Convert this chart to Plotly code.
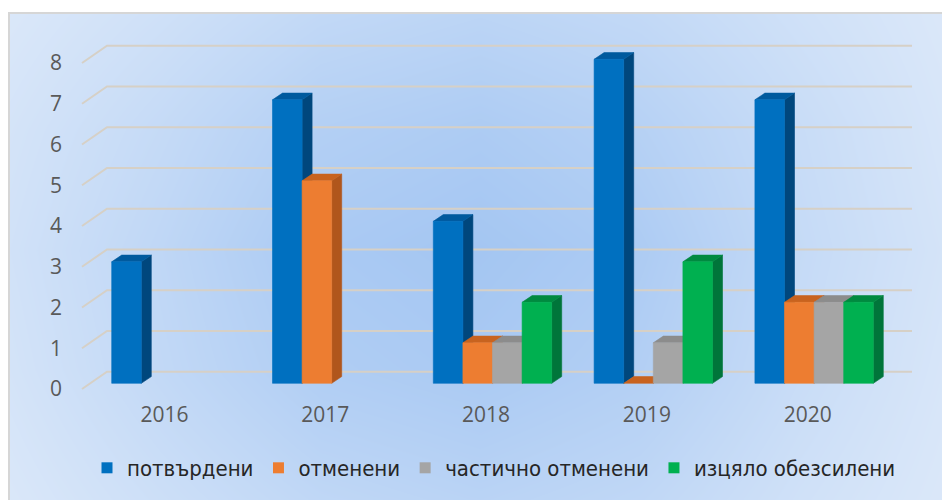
import plotly.graph_objects as go

# ---------------- data ----------------
years = ["2016", "2017", "2018", "2019", "2020"]
series_names = ["потвърдени", "отменени", "частично отменени", "изцяло обезсилени"]
confirmed = [3, 7, 4, 8, 7]
revoked = [None, 5, 1, 0, 2]
partly_revoked = [None, None, 1, 1, 2]
annulled = [None, None, 2, 3, 2]
y_ticks = [0, 1, 2, 3, 4, 5, 6, 7, 8]

series_values = [confirmed, revoked, partly_revoked, annulled]

# ---------------- style ----------------
front_colors = ["#0070C0", "#ED7D31", "#A5A5A5", "#00B050"]
side_colors = ["#00477D", "#B0561C", "#7A7A7A", "#00753A"]
top_colors = ["#005A9E", "#C8631F", "#8C8C8C", "#008A40"]
grid_color = "#D6D0C6"

OFF = 8                      # page body margin in the browser
W, H = 950 - OFF, 500 - OFF  # figure size
# screen-pixel geometry of the bar (front) plane
PX0, PXU = 170.9, 160.8     # pixel of category 0, pixels per category
PY0, PYU = 383.3, 40.5      # pixel of value 0, pixels per unit


def xd(px):
    return (px - PX0) / PXU


def yd(py):
    return (PY0 - py) / PYU


def xp(px):
    return (px - OFF) / W


def yp(py):
    return 1 - (py - OFF) / H


bar_w = 29.6 / PXU
dep_x = 10.0 / PXU
dep_y = 6.7 / PYU

fig = go.Figure()

# background gradient (decoration)
hx_px = [-20, 160, 320, 480, 640, 800, 970]
hy_px = [520, 370, 250, 130, -10]
z_bg = [
    [0.05, 0.30, 0.50, 0.60, 0.50, 0.25, 0.05],
    [0.15, 0.50, 0.80, 0.90, 0.75, 0.40, 0.10],
    [0.20, 0.55, 0.90, 1.00, 0.85, 0.45, 0.15],
    [0.15, 0.45, 0.75, 0.85, 0.70, 0.40, 0.10],
    [0.05, 0.25, 0.45, 0.55, 0.45, 0.25, 0.05],
]
fig.add_trace(go.Heatmap(
    x=[xd(p) for p in hx_px], y=[yd(p) for p in hy_px], z=z_bg,
    zsmooth="best", showscale=False, hoverinfo="skip",
    colorscale=[[0, "#E0EBFA"], [1, "#A4C6F2"]], zmin=0, zmax=1,
))

# 3-D style gridlines: diagonal on the side wall, then along the back wall
gx, gy = [], []
for t in y_ticks:
    fy = 389.0 - 40.75 * t
    by = 371.7 - 40.75 * t
    gx += [xd(82), xd(107), xd(912), None]
    gy += [yd(fy), yd(by), yd(by), None]
fig.add_trace(go.Scatter(x=gx, y=gy, mode="lines", line=dict(color=grid_color, width=2),
                         hoverinfo="skip", showlegend=False))

# bars: side, top and front faces
for k, vals in enumerate(series_values):
    sx, sy, tx, ty, fx, fy = [], [], [], [], [], []
    for i, v in enumerate(vals):
        if v is None:
            continue
        xl = i - 2 * bar_w + k * bar_w
        xr = xl + bar_w
        sx += [xr, xr + dep_x, xr + dep_x, xr, xr, None]
        sy += [0, dep_y, v + dep_y, v, 0, None]
        tx += [xl, xl + dep_x, xr + dep_x, xr, xl, None]
        ty += [v, v + dep_y, v + dep_y, v, v, None]
        if v > 0:
            fx += [xl, xr, xr, xl, xl, None]
            fy += [0, 0, v, v, 0, None]
    for xs, ys, col in ((sx, sy, side_colors[k]), (tx, ty, top_colors[k]), (fx, fy, front_colors[k])):
        if xs:
            fig.add_trace(go.Scatter(x=xs, y=ys, mode="lines", fill="toself", fillcolor=col,
                                     line=dict(color=col, width=0.6), hoverinfo="skip",
                                     showlegend=False))

# legend entries
for k, name in enumerate(series_names):
    fig.add_trace(go.Scatter(x=[None], y=[None], mode="markers", name=name,
                             marker=dict(symbol="square", size=11, color=front_colors[k])))

fig.update_layout(
    template="none",
    width=W, height=H,
    margin=dict(l=0, r=0, t=0, b=0),
    paper_bgcolor="white",
    plot_bgcolor="white",
    showlegend=True,
    legend=dict(orientation="h", x=xp(494), xanchor="center", y=yp(468), yanchor="middle",
                font=dict(family="Liberation Sans Narrow, DejaVu Sans Condensed, sans-serif",
                          size=22, color="#262626"),
                bgcolor="rgba(0,0,0,0)", itemclick=False),
    xaxis=dict(range=[xd(OFF), xd(950)], anchor="free", position=yp(400),
               tickvals=[i - 0.04 for i in range(len(years))], ticktext=years,
               showgrid=False, zeroline=False, showline=False, ticks="",
               tickfont=dict(family="Open Sans, sans-serif", size=21, color="#595959"),
               automargin=False, fixedrange=True),
    yaxis=dict(range=[yd(500), yd(OFF)], anchor="free", position=xp(62),
               tickvals=[yd(389.0 - 40.75 * t) for t in y_ticks], ticktext=[str(t) for t in y_ticks],
               showgrid=False, zeroline=False, showline=False, ticks="",
               tickfont=dict(family="Open Sans, sans-serif", size=21, color="#595959"),
               automargin=False, fixedrange=True),
    shapes=[
        dict(type="rect", xref="paper", yref="paper", x0=0, x1=1, y0=yp(12), y1=1,
             fillcolor="white", line=dict(width=0), layer="above"),
        dict(type="rect", xref="paper", yref="paper", x0=xp(9), x1=1.02, y0=-0.02, y1=yp(13),
             fillcolor="rgba(0,0,0,0)", line=dict(color="#D6D6D6", width=2), layer="above"),
    ],
)

fig.write_html("out.html")
